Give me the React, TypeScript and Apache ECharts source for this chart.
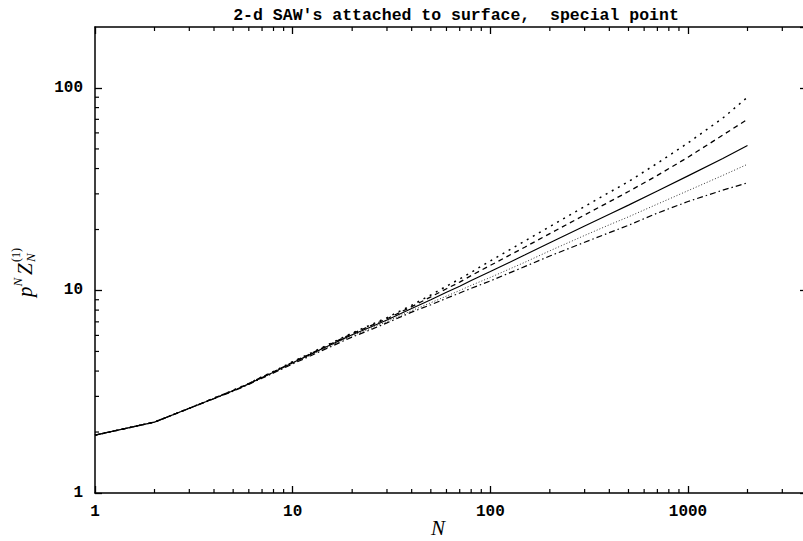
import React, { useEffect, useRef } from "react";
import * as echarts from "echarts";

const N_VALUES = [1, 2, 3, 4, 5, 6, 7, 8, 9, 10, 12, 14, 16, 18, 20, 25, 30, 40, 50, 60, 70, 80, 100, 150, 200, 300, 400, 500, 700, 1000, 1500, 2000];

const DOTTED = [1.93, 2.24, 2.62, 2.94, 3.22, 3.48, 3.75, 3.98, 4.22, 4.45, 4.84, 5.21, 5.55, 5.87, 6.17, 6.78, 7.35, 8.45, 9.5, 10.5, 11.4, 12.3, 14.0, 17.6, 20.7, 26.0, 30.5, 34.5, 42.5, 53.5, 71.0, 90.0];
const DASHED = [1.93, 2.24, 2.62, 2.94, 3.21, 3.47, 3.74, 3.97, 4.2, 4.43, 4.81, 5.18, 5.51, 5.83, 6.12, 6.72, 7.25, 8.32, 9.3, 10.2, 11.0, 11.85, 13.3, 16.4, 19.1, 23.6, 27.4, 30.8, 37.0, 45.5, 58.5, 70.0];
const SOLID = [1.93, 2.24, 2.62, 2.93, 3.2, 3.46, 3.72, 3.95, 4.18, 4.4, 4.78, 5.14, 5.46, 5.77, 6.05, 6.62, 7.15, 8.15, 9.0, 9.8, 10.5, 11.2, 12.4, 15.0, 17.2, 20.8, 23.8, 26.4, 31.0, 36.8, 44.8, 52.0];
const FINE_DOTTED = [1.93, 2.24, 2.62, 2.93, 3.19, 3.45, 3.71, 3.93, 4.16, 4.37, 4.74, 5.09, 5.4, 5.7, 5.97, 6.52, 7.03, 7.95, 8.7, 9.38, 10.0, 10.6, 11.6, 13.8, 15.7, 18.7, 21.1, 23.1, 26.7, 31.1, 37.0, 42.0];
const DASH_DOT = [1.93, 2.24, 2.62, 2.92, 3.18, 3.44, 3.69, 3.91, 4.13, 4.34, 4.7, 5.04, 5.34, 5.63, 5.89, 6.42, 6.92, 7.82, 8.5, 9.15, 9.72, 10.25, 11.15, 13.15, 14.8, 17.3, 19.3, 21.0, 24.1, 27.5, 31.3, 34.0];

const X_MINOR = [2, 3, 4, 5, 6, 7, 8, 9, 20, 30, 40, 50, 60, 70, 80, 90, 200, 300, 400, 500, 600, 700, 800, 900, 2000, 3000];
const Y_MINOR = [2, 3, 4, 5, 6, 7, 8, 9, 20, 30, 40, 50, 60, 70, 80, 90];

const TITLE = "2-d SAW's attached to surface,  special point";
const X_MIN = 1;
const X_MAX = 4000;
const Y_MIN = 1;
const Y_MAX = 200;

const MONO = "'Liberation Mono', 'DejaVu Sans Mono', monospace";
const SERIF = "'Liberation Serif', 'DejaVu Serif', serif";

export default function App() {
  const ref = useRef<HTMLDivElement>(null);

  useEffect(() => {
    if (!ref.current) return;
    const chart = echarts.init(ref.current, null, { renderer: "svg" });

    const axisLine = { show: true, lineStyle: { color: "#000", width: 1.5 } };
    const axisTick = { show: true, inside: true, length: 7, lineStyle: { color: "#000", width: 1.3 } };
    const labelStyle = {
      fontFamily: MONO,
      fontWeight: "bold" as const,
      fontSize: 16,
      color: "#000",
      showMaxLabel: false,
      formatter: (v: number) => String(Math.round(v)),
    };

    const mk = (name: string, data: number[], type: any, width = 1.2, color = "#000") => ({
      name,
      type: "line",
      xAxisIndex: 0,
      yAxisIndex: 0,
      data: N_VALUES.map((n, i) => [n, data[i]]),
      showSymbol: false,
      symbol: "none",
      smooth: false,
      lineStyle: { color, width, type },
      z: 3,
    });

    const option: any = {
      animation: false,
      backgroundColor: "#fff",
      title: {
        text: TITLE,
        left: 451,
        top: 2,
        textAlign: "center",
        textStyle: { fontFamily: MONO, fontWeight: "bold", fontSize: 16.5, color: "#000" },
      },
      grid: { left: 95, right: 1, top: 27, bottom: 48, containLabel: false },
      xAxis: [
        {
          type: "log",
          logBase: 10,
          min: X_MIN,
          max: X_MAX,
          position: "bottom",
          axisLine,
          axisTick,
          axisLabel: { ...labelStyle, margin: 11 },
          splitLine: { show: false },
        },
        {
          type: "log",
          logBase: 10,
          min: X_MIN,
          max: X_MAX,
          position: "top",
          axisLine,
          axisTick,
          axisLabel: { show: false },
          splitLine: { show: false },
        },
      ],
      yAxis: [
        {
          type: "log",
          logBase: 10,
          min: Y_MIN,
          max: Y_MAX,
          position: "left",
          axisLine,
          axisTick,
          axisLabel: { ...labelStyle, margin: 12 },
          splitLine: { show: false },
        },
        {
          type: "log",
          logBase: 10,
          min: Y_MIN,
          max: Y_MAX,
          position: "right",
          axisLine,
          axisTick,
          axisLabel: { show: false },
          splitLine: { show: false },
        },
      ],
      series: [
        mk("dotted", DOTTED, [2, 5], 1.5),
        mk("dashed", DASHED, [5, 4], 1.3),
        mk("fine dotted", FINE_DOTTED, [1, 2], 1, "#333"),
        mk("dash-dot", DASH_DOT, [6, 3, 1.5, 3], 1.2),
        mk("solid", SOLID, "solid", 1.2),
        {
          type: "custom",
          coordinateSystem: "cartesian2d",
          xAxisIndex: 0,
          yAxisIndex: 0,
          silent: true,
          clip: false,
          data: X_MINOR.map((v) => [v, Y_MIN]),
          renderItem: (params: any, api: any) => {
            const cs = params.coordSys;
            const px = api.coord([api.value(0), Y_MIN])[0];
            const b = cs.y + cs.height;
            const st = { stroke: "#000", lineWidth: 1.2 };
            return {
              type: "group",
              children: [
                { type: "line", shape: { x1: px, y1: b, x2: px, y2: b - 4 }, style: st },
                { type: "line", shape: { x1: px, y1: cs.y, x2: px, y2: cs.y + 4 }, style: st },
              ],
            };
          },
        },
        {
          type: "custom",
          coordinateSystem: "cartesian2d",
          xAxisIndex: 0,
          yAxisIndex: 0,
          silent: true,
          clip: false,
          data: Y_MINOR.map((v) => [X_MIN, v]),
          renderItem: (params: any, api: any) => {
            const cs = params.coordSys;
            const py = api.coord([X_MIN, api.value(1)])[1];
            const r = cs.x + cs.width;
            const st = { stroke: "#000", lineWidth: 1.2 };
            return {
              type: "group",
              children: [
                { type: "line", shape: { x1: cs.x, y1: py, x2: cs.x + 4, y2: py }, style: st },
                { type: "line", shape: { x1: r, y1: py, x2: r - 4, y2: py }, style: st },
              ],
            };
          },
        },
      ],
      graphic: [
        {
          type: "text",
          x: 438,
          y: 528,
          style: {
            text: "N",
            fontFamily: SERIF,
            fontStyle: "italic",
            fontSize: 21,
            fill: "#000",
            align: "center",
            verticalAlign: "middle",
          },
        },
        {
          type: "group",
          x: 25,
          y: 297,
          rotation: Math.PI / 2,
          children: [
            {
              type: "text",
              x: 0,
              y: 0,
              style: { text: "p", fontFamily: SERIF, fontStyle: "italic", fontSize: 21, fill: "#000", align: "left", verticalAlign: "middle" },
            },
            {
              type: "text",
              x: 10.5,
              y: -8,
              style: { text: "N", fontFamily: SERIF, fontStyle: "italic", fontSize: 13, fill: "#000", align: "left", verticalAlign: "middle" },
            },
            {
              type: "text",
              x: 22,
              y: 0,
              style: { text: "Z", fontFamily: SERIF, fontStyle: "italic", fontSize: 21, fill: "#000", align: "left", verticalAlign: "middle" },
            },
            {
              type: "text",
              x: 35,
              y: 5,
              style: { text: "N", fontFamily: SERIF, fontStyle: "italic", fontSize: 13, fill: "#000", align: "left", verticalAlign: "middle" },
            },
            {
              type: "text",
              x: 35,
              y: -9,
              style: { text: "(1)", fontFamily: SERIF, fontSize: 12, fill: "#000", align: "left", verticalAlign: "middle" },
            },
          ],
        },
      ],
    };

    chart.setOption(option);
    return () => chart.dispose();
  }, []);

  return (
    <div style={{ position: "absolute", left: 0, top: 0, width: 803, height: 541, overflow: "hidden", background: "#fff" }}>
      <div ref={ref} style={{ position: "absolute", left: 0, top: 0, width: 808, height: 541 }} />
    </div>
  );
}
